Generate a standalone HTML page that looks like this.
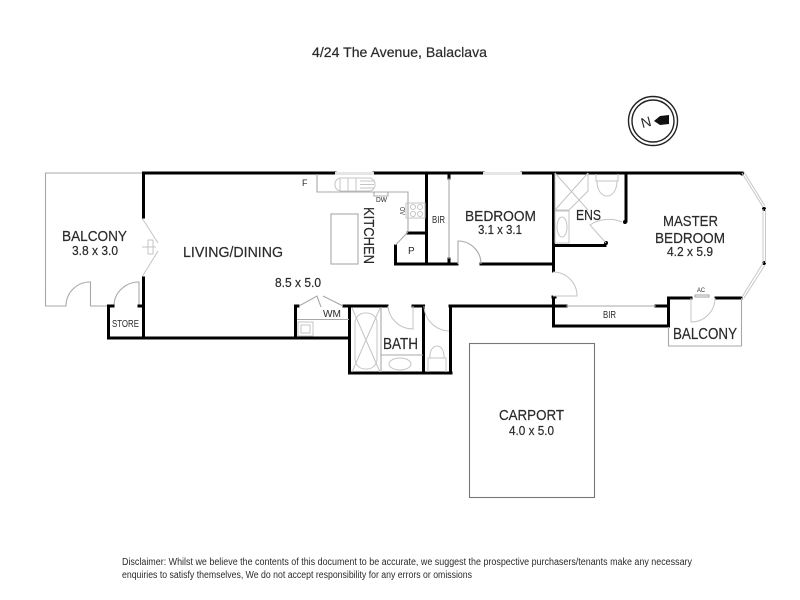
<!DOCTYPE html>
<html><head><meta charset="utf-8"><style>
html,body{margin:0;padding:0;background:#fff;width:800px;height:600px;overflow:hidden}
svg{display:block}
text{font-family:"Liberation Sans",sans-serif;fill:#2a2a2a}
.t{stroke:#2a2a2a;stroke-width:.2}
.g{fill:none;stroke:#a8a8a8;stroke-width:1.1}
.l{fill:none;stroke:#c4c4c4;stroke-width:1}
.b{fill:none;stroke:#000;stroke-width:3;stroke-linecap:square}
</style></head><body>
<svg width="800" height="600" viewBox="0 0 800 600" xmlns="http://www.w3.org/2000/svg">
<text class="t" x="312" y="57" font-size="14" textLength="175" lengthAdjust="spacingAndGlyphs">4/24 The Avenue, Balaclava</text>
<!-- compass -->
<circle cx="653" cy="121" r="24.5" fill="none" stroke="#222" stroke-width="1.4"/>
<circle cx="653" cy="121" r="21" fill="none" stroke="#222" stroke-width="1.4"/>
<text x="646" y="127" font-size="14" text-anchor="middle" transform="rotate(-15 646 122)">N</text>
<path d="M654 121 L660 116 L669 115 L669 124 L660 125 Z" fill="#111"/>
<!-- balcony grey -->
<path class="g" d="M143 173H45.5V306H66A24 24 0 0 1 90.5 282V306H108M114 306A25 24 0 0 1 139 282V306"/>
<path class="l" d="M142 218L158 243M158 251L142 277M142 247H156M148 240H153V254H148Z"/>
<!-- black walls -->
<path class="b" d="M143.500 173V217M143.500 278V338M108.500 306V338H349M108.500 306H113M139 306H143"/>
<path class="b" d="M143.500 173H335M374 173H483M522 173H742"/>
<path class="b" d="M295.500 306V338M295.500 306H298M344 306H387M413 306H423M450 306H553M349.500 306V373H451M423.500 306V373M450.500 306V373"/>
<path class="b" d="M426.500 173V264M408 233H426M395.500 246V264H457M481 264H553M449 174V178M449 259V264"/>
<path class="b" d="M553.500 173V271M553.500 297V326H668.500V298H691M716 298H741M553.500 306H566M656 306H668M553 297H555"/>
<path class="b" d="M626 173V221M555 245.500H605"/>
<circle cx="742" cy="173.500" r="2" fill="#000"/><circle cx="764" cy="209" r="2" fill="#000"/><circle cx="764" cy="263" r="2" fill="#000"/><circle cx="625" cy="222" r="2" fill="#000"/><circle cx="606" cy="243" r="2" fill="#000"/>
<!-- windows -->
<rect x="335" y="172" width="39" height="3" fill="#e6e6e6"/><rect x="483" y="172" width="39" height="3" fill="#e6e6e6"/>
<path d="M742 173L763 207M744 172L765 206M763 209V263M765.500 209V263M763 263L742 297M765 265L744 298" fill="none" stroke="#c8c8c8" stroke-width="1"/>
<!-- kitchen -->
<path class="g" d="M317 174V192H408V232M408 232L395.500 245"/>
<path class="g" d="M374 192V196H388V192"/>
<rect class="g" x="331" y="214" width="27" height="50"/>
<rect class="l" x="335" y="178" width="40" height="13" rx="6"/>
<path class="l" d="M340 178V191M348 178V191M356 178V191M360 181H374M360 184.500H374M360 188H374"/>
<rect class="l" x="406" y="203" width="19" height="15"/>
<circle class="l" cx="413" cy="207" r="2.500"/><circle class="l" cx="420" cy="207" r="2.500"/><circle class="l" cx="413" cy="214" r="2.500"/><circle class="l" cx="420" cy="214" r="2.500"/>
<!-- bedroom -->
<path class="g" d="M449 178V259"/>
<path class="g" d="M458 264V241A23 23 0 0 1 481 264"/>
<!-- ensuite -->
<path class="l" d="M555 173V210H569L588 191V173M555 173L588 210M588 173L555 210"/>
<rect class="l" x="555" y="211" width="14" height="32"/>
<ellipse class="l" cx="562" cy="227" rx="5" ry="10"/>
<path class="l" d="M596 174V181H618V174M597 181C597 201 617 201 617 181"/>
<path class="l" d="M606 243L590 225A34 34 0 0 1 622 222"/>
<!-- master door / BIR -->
<path class="l" d="M553 272A24 24 0 0 1 577 296H553"/>
<path class="g" d="M566 306H656"/>
<path class="l" d="M691 298V322A24 24 0 0 0 715 298"/>
<rect class="g" x="695" y="295" width="14" height="2"/>
<path class="g" d="M668.500 327V346H741.500V298"/>
<!-- laundry -->
<path class="g" d="M299 306L317 296L321 307M323 296L343 306M297 319.500H349"/>
<rect class="l" x="298" y="322" width="15" height="14"/>
<rect class="l" x="301" y="325" width="9" height="8"/>
<!-- bath -->
<path class="g" d="M381 307V372M381 355H423"/>
<rect class="l" x="355" y="313" width="22" height="56" rx="10"/>
<path class="l" d="M352 308L380 372M380 308L352 372"/>
<ellipse class="l" cx="400" cy="364" rx="11" ry="6"/>
<path class="l" d="M388 306A25 25 0 0 0 413 329V306"/>
<path class="l" d="M424 306A26 26 0 0 0 449 331"/>
<path class="l" d="M428 372V358H446V372M430 358C429 342 445 342 444 358"/>
<!-- carport -->
<rect x="469.500" y="343.500" width="125" height="154" fill="none" stroke="#777" stroke-width="1.1"/>
<!-- labels -->
<text class="t" x="62" y="241" font-size="15" textLength="65" lengthAdjust="spacingAndGlyphs">BALCONY</text>
<text class="t" x="72" y="255" font-size="13" textLength="46" lengthAdjust="spacingAndGlyphs">3.8 x 3.0</text>
<text class="t" x="183" y="257" font-size="15" textLength="100" lengthAdjust="spacingAndGlyphs">LIVING/DINING</text>
<text class="t" x="275" y="287" font-size="13" textLength="46" lengthAdjust="spacingAndGlyphs">8.5 x 5.0</text>
<text x="112" y="327" font-size="10" textLength="27" lengthAdjust="spacingAndGlyphs">STORE</text>
<text x="302" y="186" font-size="9">F</text>
<text x="376" y="202" font-size="7.500" textLength="11" lengthAdjust="spacingAndGlyphs">DW</text>
<text class="t" transform="translate(364 207) rotate(90)" font-size="15" textLength="57" lengthAdjust="spacingAndGlyphs">KITCHEN</text>
<text transform="translate(400 207) rotate(90)" font-size="7" textLength="8" lengthAdjust="spacingAndGlyphs">OV</text>
<text x="408" y="254" font-size="10">P</text>
<text x="432" y="223" font-size="10" textLength="13" lengthAdjust="spacingAndGlyphs">BIR</text>
<text class="t" x="465" y="221" font-size="15" textLength="71" lengthAdjust="spacingAndGlyphs">BEDROOM</text>
<text class="t" x="478" y="234" font-size="13" textLength="44" lengthAdjust="spacingAndGlyphs">3.1 x 3.1</text>
<text x="323" y="317" font-size="10" textLength="18" lengthAdjust="spacingAndGlyphs">WM</text>
<text class="t" x="383" y="349" font-size="16" textLength="35" lengthAdjust="spacingAndGlyphs">BATH</text>
<text class="t" x="576" y="220" font-size="15" textLength="25" lengthAdjust="spacingAndGlyphs">ENS</text>
<text class="t" x="663" y="226" font-size="15" textLength="55" lengthAdjust="spacingAndGlyphs">MASTER</text>
<text class="t" x="655" y="243" font-size="15" textLength="70" lengthAdjust="spacingAndGlyphs">BEDROOM</text>
<text class="t" x="667" y="256" font-size="13" textLength="46" lengthAdjust="spacingAndGlyphs">4.2 x 5.9</text>
<text x="697" y="292" font-size="6.500" textLength="8" lengthAdjust="spacingAndGlyphs">AC</text>
<text x="603" y="318" font-size="10" textLength="13" lengthAdjust="spacingAndGlyphs">BIR</text>
<text class="t" x="673" y="339" font-size="16" textLength="64" lengthAdjust="spacingAndGlyphs">BALCONY</text>
<text class="t" x="499" y="420" font-size="15" textLength="65" lengthAdjust="spacingAndGlyphs">CARPORT</text>
<text class="t" x="509" y="435" font-size="13" textLength="45" lengthAdjust="spacingAndGlyphs">4.0 x 5.0</text>
<text x="122" y="565" font-size="10" textLength="570" lengthAdjust="spacingAndGlyphs">Disclaimer: Whilst we believe the contents of this document to be accurate, we suggest the prospective purchasers/tenants make any necessary</text>
<text x="122" y="578" font-size="10" textLength="350" lengthAdjust="spacingAndGlyphs">enquiries to satisfy themselves, We do not accept responsibility for any errors or omissions</text>
</svg>
</body></html>
